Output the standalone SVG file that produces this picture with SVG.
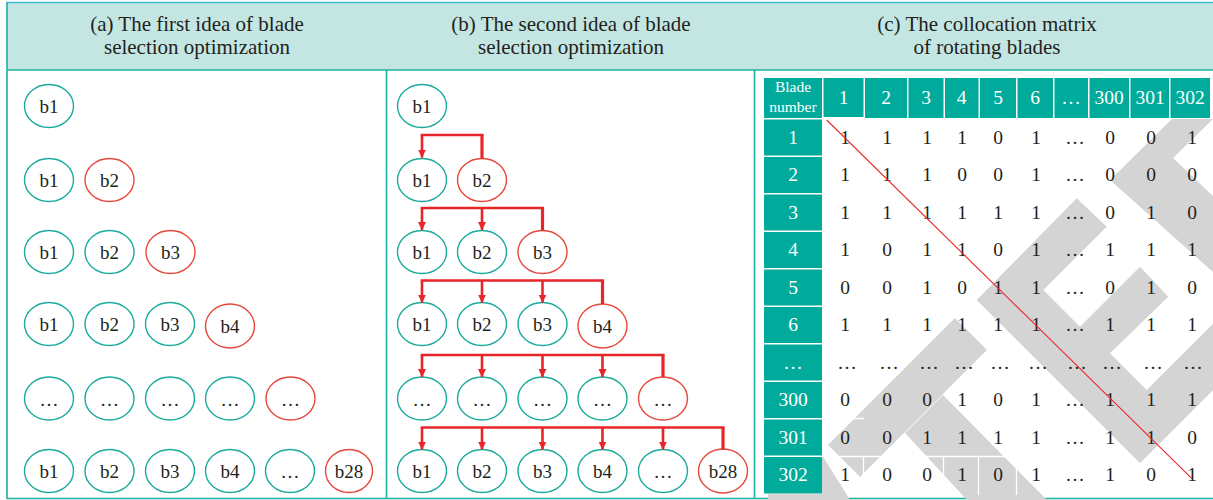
<svg xmlns="http://www.w3.org/2000/svg" width="1213" height="500" viewBox="0 0 1213 500">
<style>
.hdr{font-family:"Liberation Serif","Times New Roman",serif;font-size:21px;fill:#231f20;text-anchor:middle}
.nt{font-family:"Liberation Serif","Times New Roman",serif;font-size:19px;fill:#231f20;text-anchor:middle}
.tv{font-family:"Liberation Serif","Times New Roman",serif;font-size:19.5px;fill:#231f20;text-anchor:middle}
.tw{font-family:"Liberation Serif","Times New Roman",serif;font-size:19.5px;fill:#ffffff;text-anchor:middle}
.ts{font-family:"Liberation Serif","Times New Roman",serif;font-size:15.5px;fill:#ffffff;text-anchor:middle}
.g{fill:none;stroke:#1aab9b;stroke-width:1.4}
.r{fill:none;stroke:#e8473b;stroke-width:1.4}
.cell{fill:#00ab9b}
.gray{fill:#d4d4d4}
.wl{stroke:#ffffff;stroke-width:1.3}
.con{fill:none;stroke:#e8262a;stroke-width:2.6}
.src{fill:none;stroke:#e8262a;stroke-width:3.2}
</style>
<defs>
<marker id="ah" markerUnits="userSpaceOnUse" markerWidth="9" markerHeight="9" refX="8" refY="4.5" orient="auto" viewBox="0 0 9 9">
<path d="M0,0.5 L8.5,4.5 L0,8.5 z" fill="#e8262a"/>
</marker>
</defs>
<rect x="0" y="0" width="1213" height="500" fill="#ffffff"/>
<!-- frame -->
<g id="frame">
<rect x="7" y="2.5" width="1210" height="67.5" fill="#c3e6e3"/>
<line x1="7" y1="2.5" x2="1213" y2="2.5" stroke="#3fbdcc" stroke-width="1.5"/>
<line x1="7" y1="70" x2="1213" y2="70" stroke="#19b0a0" stroke-width="1.6"/>
<line x1="7" y1="2" x2="7" y2="499" stroke="#19b0a0" stroke-width="1.6"/>
<line x1="386.5" y1="70" x2="386.5" y2="499" stroke="#19b0a0" stroke-width="1.6"/>
<line x1="754.5" y1="70" x2="754.5" y2="499" stroke="#19b0a0" stroke-width="1.6"/>
<line x1="7" y1="498.5" x2="1213" y2="498.5" stroke="#19b0a0" stroke-width="1.6"/>
<text class="hdr" x="197" y="31">(a) The first idea of blade</text>
<text class="hdr" x="197" y="54">selection optimization</text>
<text class="hdr" x="571" y="31">(b) The second idea of blade</text>
<text class="hdr" x="571" y="54">selection optimization</text>
<text class="hdr" x="987" y="31">(c) The collocation matrix</text>
<text class="hdr" x="987" y="54">of rotating blades</text>
</g>
<!-- panel (a) -->
<g id="panel-a">
<g id="a-r1-b1"><ellipse class="g" cx="49" cy="106" rx="24.5" ry="21.5"/><text class="nt" x="49" y="113">b1</text></g>
<g id="a-r2-b1"><ellipse class="g" cx="49" cy="180" rx="24.5" ry="21.5"/><text class="nt" x="49" y="187">b1</text></g>
<g id="a-r2-b2"><ellipse class="r" cx="109.5" cy="180" rx="24.5" ry="21.5"/><text class="nt" x="109.5" y="187">b2</text></g>
<g id="a-r3-b1"><ellipse class="g" cx="49" cy="252" rx="24.5" ry="21.5"/><text class="nt" x="49" y="259">b1</text></g>
<g id="a-r3-b2"><ellipse class="g" cx="109.5" cy="252" rx="24.5" ry="21.5"/><text class="nt" x="109.5" y="259">b2</text></g>
<g id="a-r3-b3"><ellipse class="r" cx="170.5" cy="252" rx="24.5" ry="21.5"/><text class="nt" x="170.5" y="259">b3</text></g>
<g id="a-r4-b1"><ellipse class="g" cx="49" cy="324" rx="24.5" ry="21.5"/><text class="nt" x="49" y="331">b1</text></g>
<g id="a-r4-b2"><ellipse class="g" cx="109.5" cy="324" rx="24.5" ry="21.5"/><text class="nt" x="109.5" y="331">b2</text></g>
<g id="a-r4-b3"><ellipse class="g" cx="170" cy="324" rx="24.5" ry="21.5"/><text class="nt" x="170" y="331">b3</text></g>
<g id="a-r4-b4"><ellipse class="r" cx="230" cy="326" rx="24.5" ry="22"/><text class="nt" x="230" y="333">b4</text></g>
<g id="a-r5-1"><ellipse class="g" cx="49" cy="398.5" rx="24.5" ry="21.5"/><text class="nt" x="49" y="405.5">…</text></g>
<g id="a-r5-2"><ellipse class="g" cx="109.5" cy="398.5" rx="24.5" ry="21.5"/><text class="nt" x="109.5" y="405.5">…</text></g>
<g id="a-r5-3"><ellipse class="g" cx="170" cy="398.5" rx="24.5" ry="21.5"/><text class="nt" x="170" y="405.5">…</text></g>
<g id="a-r5-4"><ellipse class="g" cx="230" cy="398.5" rx="24.5" ry="21.5"/><text class="nt" x="230" y="405.5">…</text></g>
<g id="a-r5-5"><ellipse class="r" cx="290.5" cy="398.5" rx="24.5" ry="21.5"/><text class="nt" x="290.5" y="405.5">…</text></g>
<g id="a-r6-b1"><ellipse class="g" cx="49" cy="471" rx="24.5" ry="21.5"/><text class="nt" x="49" y="478">b1</text></g>
<g id="a-r6-b2"><ellipse class="g" cx="109.5" cy="471" rx="24.5" ry="21.5"/><text class="nt" x="109.5" y="478">b2</text></g>
<g id="a-r6-b3"><ellipse class="g" cx="170" cy="471" rx="24.5" ry="21.5"/><text class="nt" x="170" y="478">b3</text></g>
<g id="a-r6-b4"><ellipse class="g" cx="230" cy="471" rx="24.5" ry="21.5"/><text class="nt" x="230" y="478">b4</text></g>
<g id="a-r6-5"><ellipse class="g" cx="290" cy="471" rx="24.5" ry="21.5"/><text class="nt" x="290" y="478">…</text></g>
<g id="a-r6-b28"><ellipse class="r" cx="349" cy="471" rx="23.5" ry="21.5"/><text class="nt" x="349" y="478">b28</text></g>
</g>
<!-- panel (b) nodes -->
<g id="panel-b">
<g id="b-r1-b1"><ellipse class="g" cx="422" cy="106" rx="24.5" ry="21.5"/><text class="nt" x="422" y="113">b1</text></g>
<g id="b-r2-b1"><ellipse class="g" cx="422" cy="180" rx="24.5" ry="21.5"/><text class="nt" x="422" y="187">b1</text></g>
<g id="b-r2-b2"><ellipse class="r" cx="482" cy="180" rx="24.5" ry="21.5"/><text class="nt" x="482" y="187">b2</text></g>
<g id="b-r3-b1"><ellipse class="g" cx="422" cy="252" rx="24.5" ry="21.5"/><text class="nt" x="422" y="259">b1</text></g>
<g id="b-r3-b2"><ellipse class="g" cx="482" cy="252" rx="24.5" ry="21.5"/><text class="nt" x="482" y="259">b2</text></g>
<g id="b-r3-b3"><ellipse class="r" cx="542.5" cy="252" rx="24.5" ry="21.5"/><text class="nt" x="542.5" y="259">b3</text></g>
<g id="b-r4-b1"><ellipse class="g" cx="422" cy="324" rx="24.5" ry="21.5"/><text class="nt" x="422" y="331">b1</text></g>
<g id="b-r4-b2"><ellipse class="g" cx="482" cy="324" rx="24.5" ry="21.5"/><text class="nt" x="482" y="331">b2</text></g>
<g id="b-r4-b3"><ellipse class="g" cx="542.5" cy="324" rx="24.5" ry="21.5"/><text class="nt" x="542.5" y="331">b3</text></g>
<g id="b-r4-b4"><ellipse class="r" cx="602.5" cy="326" rx="24.5" ry="22"/><text class="nt" x="602.5" y="333">b4</text></g>
<g id="b-r5-1"><ellipse class="g" cx="422" cy="398.5" rx="24.5" ry="21.5"/><text class="nt" x="422" y="405.5">…</text></g>
<g id="b-r5-2"><ellipse class="g" cx="482" cy="398.5" rx="24.5" ry="21.5"/><text class="nt" x="482" y="405.5">…</text></g>
<g id="b-r5-3"><ellipse class="g" cx="542.5" cy="398.5" rx="24.5" ry="21.5"/><text class="nt" x="542.5" y="405.5">…</text></g>
<g id="b-r5-4"><ellipse class="g" cx="602.5" cy="398.5" rx="24.5" ry="21.5"/><text class="nt" x="602.5" y="405.5">…</text></g>
<g id="b-r5-5"><ellipse class="r" cx="663" cy="398.5" rx="24.5" ry="21.5"/><text class="nt" x="663" y="405.5">…</text></g>
<g id="b-r6-b1"><ellipse class="g" cx="422" cy="471" rx="24.5" ry="21.5"/><text class="nt" x="422" y="478">b1</text></g>
<g id="b-r6-b2"><ellipse class="g" cx="482" cy="471" rx="24.5" ry="21.5"/><text class="nt" x="482" y="478">b2</text></g>
<g id="b-r6-b3"><ellipse class="g" cx="542.5" cy="471" rx="24.5" ry="21.5"/><text class="nt" x="542.5" y="478">b3</text></g>
<g id="b-r6-b4"><ellipse class="g" cx="602.5" cy="471" rx="24.5" ry="21.5"/><text class="nt" x="602.5" y="478">b4</text></g>
<g id="b-r6-5"><ellipse class="g" cx="663" cy="471" rx="24.5" ry="21.5"/><text class="nt" x="663" y="478">…</text></g>
<g id="b-r6-b28"><ellipse class="r" cx="723" cy="471" rx="24.5" ry="22"/><text class="nt" x="723" y="478">b28</text></g>
</g>
<!-- connectors (b) -->
<g id="connectors">
<path class="con" d="M420.7,135 H483.6"/>
<path class="src" d="M482,135 V158.5"/>
<path class="con" d="M422,135 V157.5" marker-end="url(#ah)"/>
<path class="con" d="M420.7,208 H544.1"/>
<path class="src" d="M542.5,208 V230.5"/>
<path class="con" d="M422,208 V230" marker-end="url(#ah)"/>
<path class="con" d="M482,208 V230" marker-end="url(#ah)"/>
<path class="con" d="M420.7,280.5 H604.1"/>
<path class="src" d="M602.5,280.5 V304"/>
<path class="con" d="M422,280.5 V302.5" marker-end="url(#ah)"/>
<path class="con" d="M482,280.5 V302.5" marker-end="url(#ah)"/>
<path class="con" d="M542.5,280.5 V302.5" marker-end="url(#ah)"/>
<path class="con" d="M420.7,355 H664.6"/>
<path class="src" d="M663,355 V377"/>
<path class="con" d="M422,355 V377" marker-end="url(#ah)"/>
<path class="con" d="M482,355 V377" marker-end="url(#ah)"/>
<path class="con" d="M542.5,355 V377" marker-end="url(#ah)"/>
<path class="con" d="M602.5,355 V377" marker-end="url(#ah)"/>
<path class="con" d="M420.7,427.5 H724.6"/>
<path class="src" d="M723,427.5 V449.5"/>
<path class="con" d="M422,427.5 V449.5" marker-end="url(#ah)"/>
<path class="con" d="M482,427.5 V449.5" marker-end="url(#ah)"/>
<path class="con" d="M542.5,427.5 V449.5" marker-end="url(#ah)"/>
<path class="con" d="M602.5,427.5 V449.5" marker-end="url(#ah)"/>
<path class="con" d="M663,427.5 V449.5" marker-end="url(#ah)"/>
</g>
<!-- panel (c) matrix -->
<g id="matrix">
<g id="watermark">
<polygon class="gray" points="1172,119 1213,119 1173,158 1213,196 1213,272 1110,180"/>
<polygon class="gray" points="1076.7,198.3 1106.7,226.7 1043.3,290 1080,326.7 1140,266.7 1168.3,296.7 1110,353.3 1146.7,390 1213,323.7 1213,390.3 1140,463.3 976.7,300"/>
<polygon class="gray" points="955,318 987,350 860,477 828,445"/>
<polygon class="gray" points="943,395 1047,500 967,500 905,433"/>
<polygon class="gray" points="822,455 850,500 768,500 768,494 822,494"/>
</g>
<g id="grid-lines">
<line class="wl" x1="822" y1="418.5" x2="864" y2="418.5"/>
<line class="wl" x1="822" y1="456.5" x2="1054" y2="456.5"/>
<line class="wl" x1="863.5" y1="456.5" x2="863.5" y2="475"/>
<line class="wl" x1="943.5" y1="456.5" x2="943.5" y2="495"/>
<line class="wl" x1="978.5" y1="456.5" x2="978.5" y2="495"/>
<line class="wl" x1="1016.5" y1="456.5" x2="1016.5" y2="495"/>
</g>
<g id="col-headers">
<rect class="cell" x="764" y="78" width="58" height="40"/>
<rect class="cell" x="823.5" y="78" width="40" height="39"/>
<rect class="cell" x="865" y="78" width="42" height="40"/>
<rect class="cell" x="908.5" y="78" width="35" height="40"/>
<rect class="cell" x="945" y="78" width="33.5" height="40"/>
<rect class="cell" x="980" y="78" width="36" height="40"/>
<rect class="cell" x="1017.5" y="78" width="35.5" height="40"/>
<rect class="cell" x="1054.5" y="78" width="33.5" height="40"/>
<rect class="cell" x="1089.5" y="78" width="39.5" height="40"/>
<rect class="cell" x="1130.5" y="78" width="38.5" height="40"/>
<rect class="cell" x="1170.5" y="78" width="39.5" height="40"/>
<text class="ts" x="793" y="92">Blade</text>
<text class="ts" x="793" y="112">number</text>
<text class="tw" x="843.5" y="104">1</text>
<text class="tw" x="886" y="104">2</text>
<text class="tw" x="926" y="104">3</text>
<text class="tw" x="961.7" y="104">4</text>
<text class="tw" x="998" y="104">5</text>
<text class="tw" x="1035" y="104">6</text>
<text class="tw" x="1071" y="104">…</text>
<text class="tw" x="1109" y="104">300</text>
<text class="tw" x="1150" y="104">301</text>
<text class="tw" x="1190" y="104">302</text>
</g>
<g id="row-headers">
<rect class="cell" x="764" y="119.5" width="58" height="36"/>
<rect class="cell" x="764" y="157" width="58" height="36"/>
<rect class="cell" x="764" y="194.5" width="58" height="36"/>
<rect class="cell" x="764" y="232" width="58" height="36"/>
<rect class="cell" x="764" y="269.5" width="58" height="36"/>
<rect class="cell" x="764" y="307" width="58" height="36"/>
<rect class="cell" x="764" y="344.5" width="58" height="36"/>
<rect class="cell" x="764" y="382" width="58" height="36"/>
<rect class="cell" x="764" y="419.5" width="58" height="36"/>
<rect class="cell" x="764" y="457" width="58" height="36.5"/>
<text class="tw" x="793" y="143.5">1</text>
<text class="tw" x="793" y="181">2</text>
<text class="tw" x="793" y="218.5">3</text>
<text class="tw" x="793" y="256">4</text>
<text class="tw" x="793" y="293.5">5</text>
<text class="tw" x="793" y="331">6</text>
<text class="tw" x="793" y="368.5">…</text>
<text class="tw" x="793" y="406">300</text>
<text class="tw" x="793" y="443.5">301</text>
<text class="tw" x="793" y="481">302</text>
</g>
<g id="values">
<text class="tv" y="143.5"><tspan x="845">1</tspan><tspan x="887">1</tspan><tspan x="927">1</tspan><tspan x="962">1</tspan><tspan x="998">0</tspan><tspan x="1036">1</tspan><tspan x="1075">…</tspan><tspan x="1110">0</tspan><tspan x="1151">0</tspan><tspan x="1192">1</tspan></text>
<text class="tv" y="181"><tspan x="845">1</tspan><tspan x="887">1</tspan><tspan x="927">1</tspan><tspan x="962">0</tspan><tspan x="998">0</tspan><tspan x="1036">1</tspan><tspan x="1075">…</tspan><tspan x="1110">0</tspan><tspan x="1151">0</tspan><tspan x="1192">0</tspan></text>
<text class="tv" y="218.5"><tspan x="845">1</tspan><tspan x="887">1</tspan><tspan x="927">1</tspan><tspan x="962">1</tspan><tspan x="998">1</tspan><tspan x="1036">1</tspan><tspan x="1075">…</tspan><tspan x="1110">0</tspan><tspan x="1151">1</tspan><tspan x="1192">0</tspan></text>
<text class="tv" y="256"><tspan x="845">1</tspan><tspan x="887">0</tspan><tspan x="927">1</tspan><tspan x="962">1</tspan><tspan x="998">0</tspan><tspan x="1036">1</tspan><tspan x="1075">…</tspan><tspan x="1110">1</tspan><tspan x="1151">1</tspan><tspan x="1192">1</tspan></text>
<text class="tv" y="293.5"><tspan x="845">0</tspan><tspan x="887">0</tspan><tspan x="927">1</tspan><tspan x="962">0</tspan><tspan x="998">1</tspan><tspan x="1036">1</tspan><tspan x="1075">…</tspan><tspan x="1110">0</tspan><tspan x="1151">1</tspan><tspan x="1192">0</tspan></text>
<text class="tv" y="331"><tspan x="845">1</tspan><tspan x="887">1</tspan><tspan x="927">1</tspan><tspan x="962">1</tspan><tspan x="998">1</tspan><tspan x="1036">1</tspan><tspan x="1075">…</tspan><tspan x="1110">1</tspan><tspan x="1151">1</tspan><tspan x="1192">1</tspan></text>
<text class="tv" y="368.5"><tspan x="847">…</tspan><tspan x="889">…</tspan><tspan x="929">…</tspan><tspan x="964">…</tspan><tspan x="1000">…</tspan><tspan x="1038">…</tspan><tspan x="1077">…</tspan><tspan x="1112">…</tspan><tspan x="1153">…</tspan><tspan x="1193">…</tspan></text>
<text class="tv" y="406"><tspan x="845">0</tspan><tspan x="887">0</tspan><tspan x="927">0</tspan><tspan x="962">1</tspan><tspan x="998">0</tspan><tspan x="1036">1</tspan><tspan x="1075">…</tspan><tspan x="1110">1</tspan><tspan x="1151">1</tspan><tspan x="1192">1</tspan></text>
<text class="tv" y="443.5"><tspan x="845">0</tspan><tspan x="887">0</tspan><tspan x="927">1</tspan><tspan x="962">1</tspan><tspan x="998">1</tspan><tspan x="1036">1</tspan><tspan x="1075">…</tspan><tspan x="1110">1</tspan><tspan x="1151">1</tspan><tspan x="1192">0</tspan></text>
<text class="tv" y="481"><tspan x="845">1</tspan><tspan x="887">0</tspan><tspan x="927">0</tspan><tspan x="962">1</tspan><tspan x="998">0</tspan><tspan x="1036">1</tspan><tspan x="1075">…</tspan><tspan x="1110">1</tspan><tspan x="1151">0</tspan><tspan x="1192">1</tspan></text>
</g>
<line id="diagonal" x1="826.7" y1="120" x2="1191.7" y2="478.3" stroke="#e8262a" stroke-width="1.1"/>
</g>
</svg>
